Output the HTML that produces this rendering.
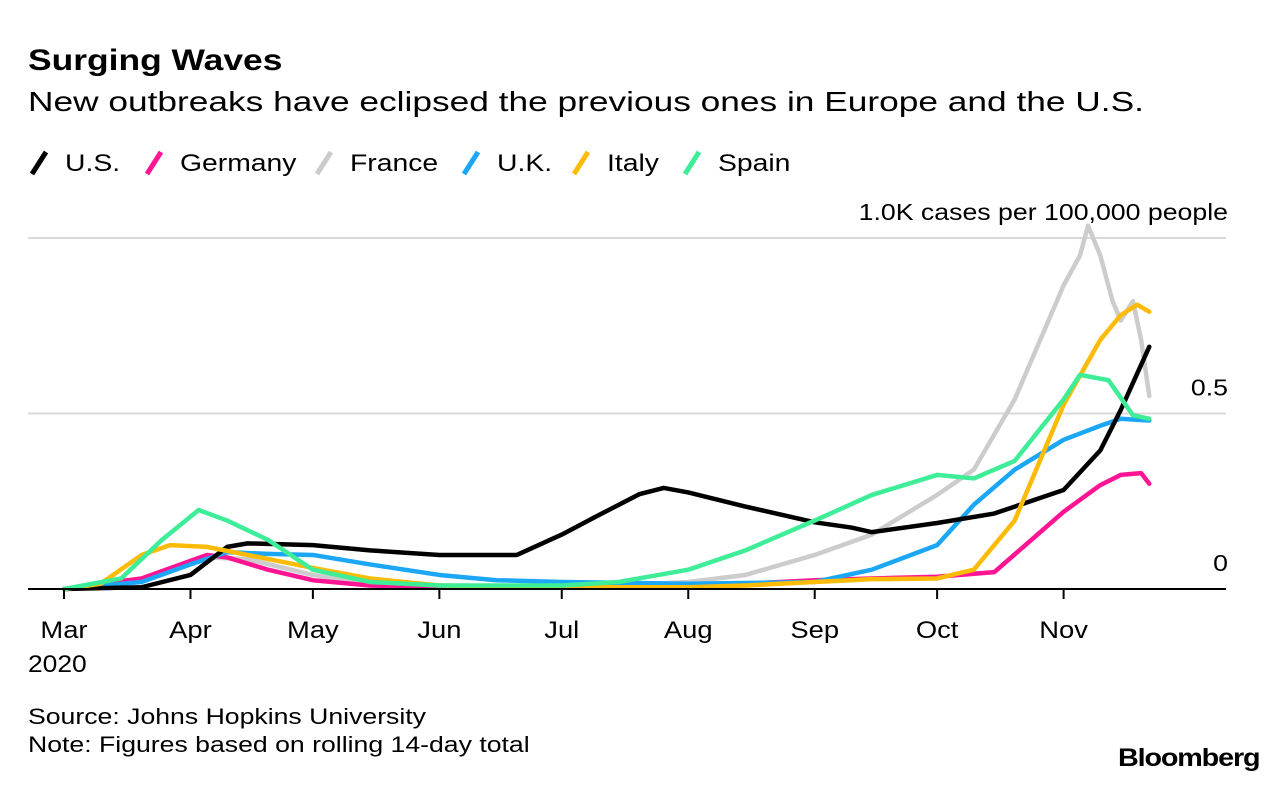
<!DOCTYPE html>
<html><head><meta charset="utf-8"><style>
body{margin:0;background:#fff;font-family:"Liberation Sans",sans-serif;color:#000}
#wrap{position:relative;width:1286px;height:786px;overflow:hidden}
.t{position:absolute;white-space:nowrap;transform-origin:left top}
</style></head><body>
<div id="wrap">
<div class="t" style="left:28px;top:44px;font-size:30px;font-weight:bold;transform:scaleX(1.18)">Surging Waves</div>
<div class="t" style="left:28px;top:86px;font-size:28px;transform:scaleX(1.26)">New outbreaks have eclipsed the previous ones in Europe and the U.S.</div>
<svg id="chart" width="1286" height="786" style="position:absolute;left:0;top:0"></svg>
<div class="t" style="left:28px;top:704px;font-size:22px;transform:scaleX(1.21)">Source: Johns Hopkins University</div>
<div class="t" style="left:28px;top:732px;font-size:22px;transform:scaleX(1.21)">Note: Figures based on rolling 14-day total</div>
<div class="t" style="left:1118px;top:744px;font-size:25px;font-weight:bold;letter-spacing:-1px;transform:scaleX(1.15)">Bloomberg</div>
</div>
<script>
const seriesNames=["U.S.","Germany","France","U.K.","Italy","Spain"];
const seriesColors=["#000000","#ff1493","#cccccc","#1ba7f5","#fcbb07","#3ded97"];
const usDays=[0,19,31,40,45,61,75,92,111,122,131,141,147,153,167,184,193,198,214,228,245,254,259,266];
const usVals=[0,5,40,120,130,125,110,97,97,155,210,270,288,275,235,190,175,162,188,215,282,395,510,690];
const deDays=[0,19,35,40,50,61,75,92,122,153,167,184,198,214,228,245,254,259,264,266];
const deVals=[0,30,97,90,55,25,10,5,5,10,15,25,30,35,48,220,296,325,330,300];
const frDays=[0,19,35,45,61,75,92,122,136,153,167,184,198,214,223,233,245,249,251,254,257,259,262,264,266];
const frVals=[0,30,90,85,40,15,10,8,10,20,40,97,155,268,340,540,865,950,1035,950,820,765,820,710,550];
const ukDays=[0,19,31,40,50,61,75,92,106,122,153,184,198,214,223,233,245,254,259,266];
const ukVals=[0,20,70,105,100,97,70,40,25,20,15,20,55,125,240,340,425,465,485,480];
const itDays=[0,9,19,26,35,45,61,75,92,122,153,167,184,198,214,223,233,245,254,259,263,266];
const itVals=[0,15,97,125,120,97,60,30,10,5,5,10,20,28,30,55,195,525,710,780,810,790];
const esDays=[0,14,24,33,40,50,61,75,92,122,136,153,167,184,198,214,223,233,245,249,256,262,266];
const esVals=[0,30,140,225,195,140,55,20,10,10,20,55,110,195,268,325,315,365,540,610,595,495,485];
const monthLabels=["Mar","Apr","May","Jun","Jul","Aug","Sep","Oct","Nov"];
const monthDays=[0,31,61,92,122,153,184,214,245];
const yTicks=[0,500,1000];
const yTickLabels=["0","0.5","1.0K cases per 100,000 people"];

const NS="http://www.w3.org/2000/svg";
const svg=document.getElementById("chart");
const x=d=>64+d*4.08;
const y=v=>589-v*0.351;
function mk(tag,attrs){const e=document.createElementNS(NS,tag);for(const k in attrs)e.setAttribute(k,attrs[k]);svg.appendChild(e);return e;}
function widen(t,W){const L=t.getComputedTextLength();t.setAttribute("textLength",L*W);t.setAttribute("lengthAdjust","spacingAndGlyphs");return L*W;}
yTicks.forEach((t,i)=>{
  if(t>0){const g=mk("line",{x1:28,x2:1226,y1:y(t),y2:y(t),stroke:"#d9d9d9","stroke-width":2});
  
  }
  const tx=mk("text",{x:1228,y:y(t)-18,"text-anchor":"end","font-size":23,"font-family":"Liberation Sans, sans-serif"});
  tx.textContent=yTickLabels[i];
  
  
  widen(tx,1.16);
});
const all=[[usDays,usVals],[deDays,deVals],[frDays,frVals],[ukDays,ukVals],[itDays,itVals],[esDays,esVals]];
const order=[2,1,3,0,4,5];
order.forEach(i=>{
  const [ds,vs]=all[i];
  const p=mk("polyline",{points:ds.map((d,j)=>x(d)+","+y(vs[j])).join(" "),fill:"none",stroke:seriesColors[i],"stroke-width":4.5,"stroke-linejoin":"round","stroke-linecap":"round"});
  
  
});
const ax=mk("line",{x1:28,x2:1226,y1:589,y2:589,stroke:"#000","stroke-width":2});


monthDays.forEach((d,i)=>{
  const tk=mk("line",{x1:x(d),x2:x(d),y1:589,y2:599,stroke:"#000","stroke-width":2});
  
  
  const lb=mk("text",{x:x(d),y:638,"text-anchor":"middle","font-size":24,"font-family":"Liberation Sans, sans-serif"});
  lb.textContent=monthLabels[i];
  
  
  widen(lb,1.14);
});
const yr=mk("text",{x:28,y:672,"font-size":24,"font-family":"Liberation Sans, sans-serif"});
yr.textContent="2020";


widen(yr,1.1);
const legendX=[30,145,315,462,572,683];
seriesNames.forEach((n,i)=>{
  const lx=legendX[i];
  const ic=mk("line",{x1:lx+2,y1:174,x2:lx+16,y2:152,stroke:seriesColors[i],"stroke-width":5,"stroke-linecap":"butt"});
  
  
  const t=mk("text",{x:lx+35,y:171,"font-size":24,"font-family":"Liberation Sans, sans-serif"});
  t.textContent=n;
  
  
  widen(t,1.18);
});
</script>
</body></html>
